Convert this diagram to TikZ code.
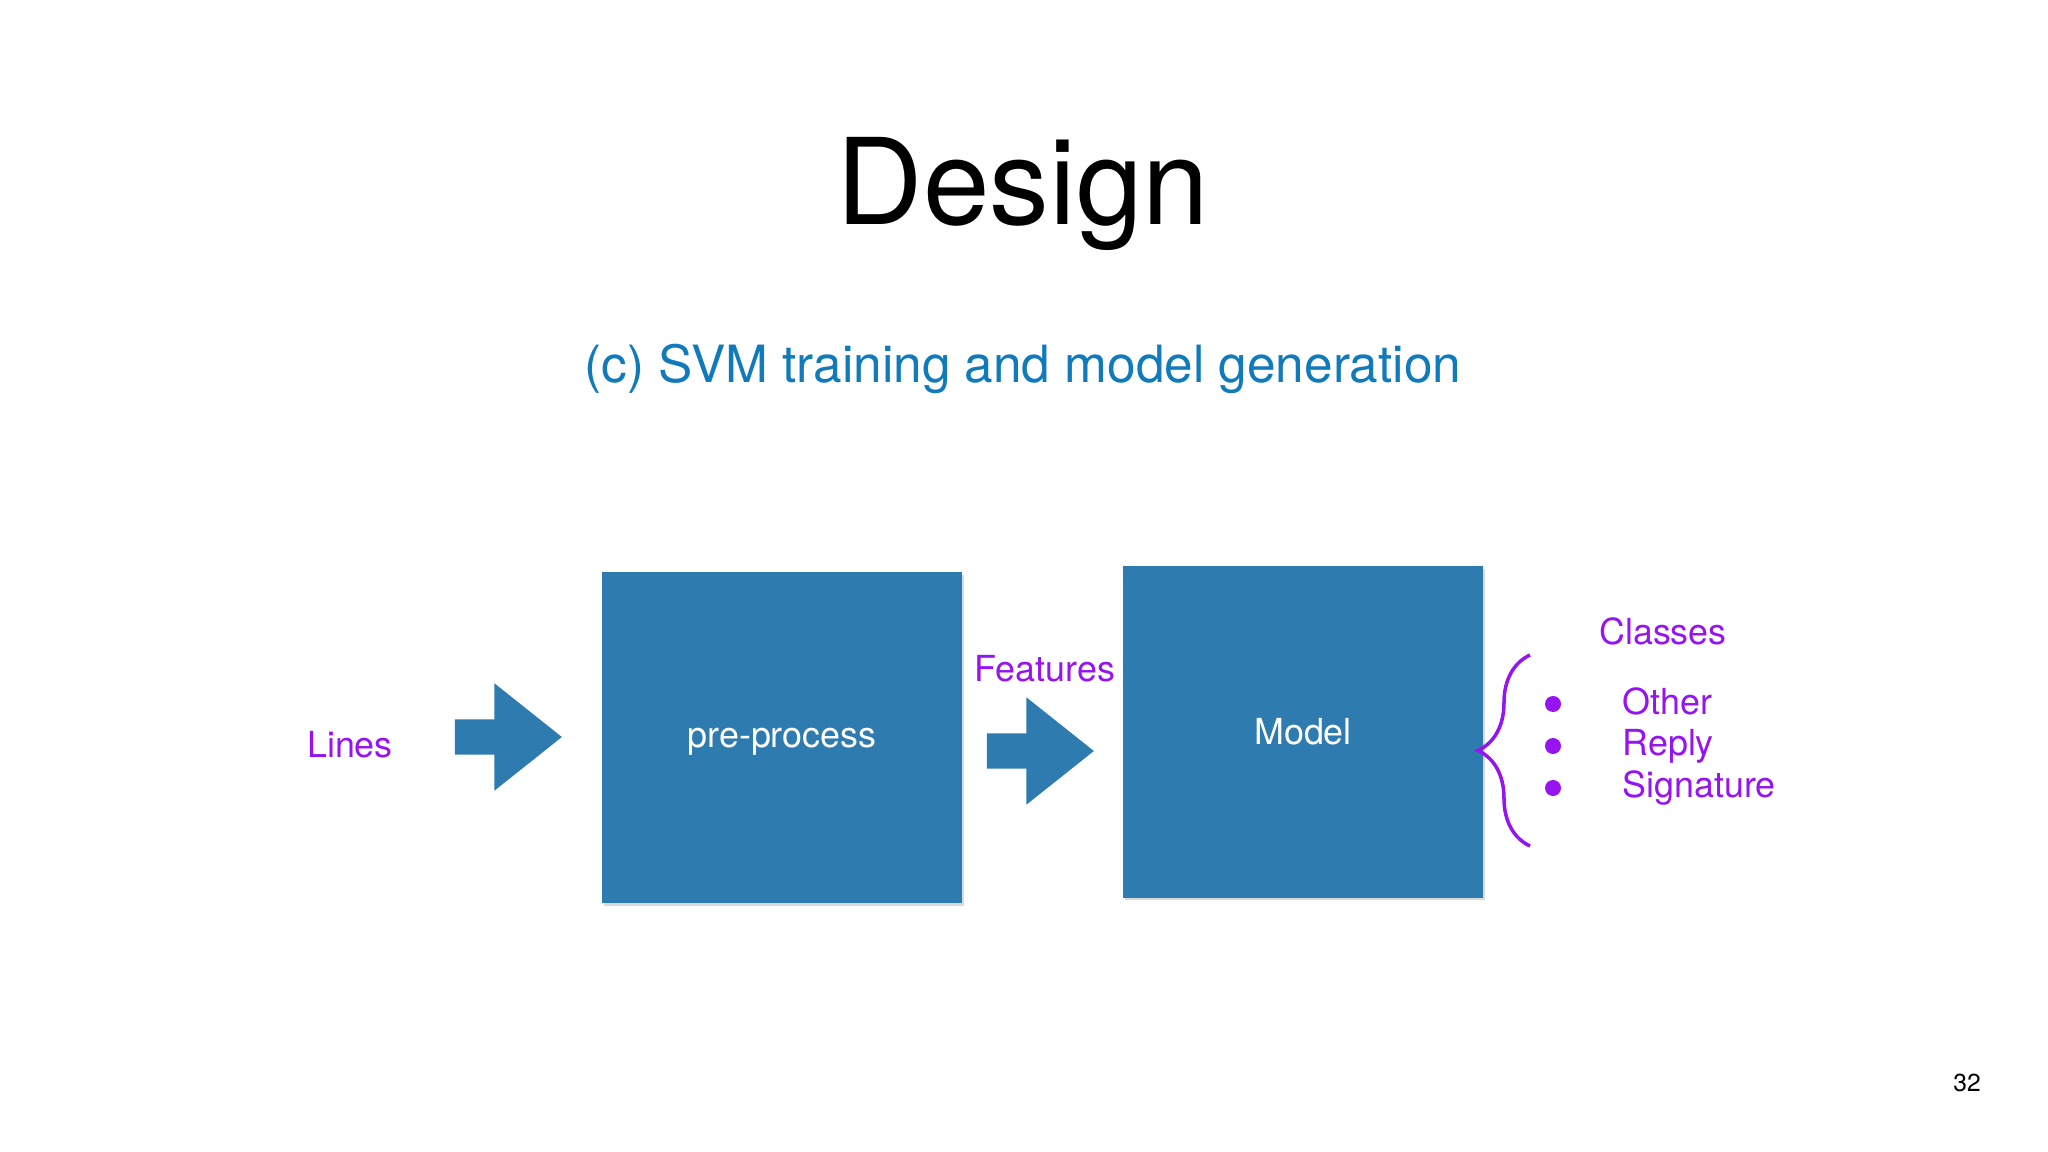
\documentclass[tikz,border=0pt]{standalone}
\usepackage{fontspec}
\setmainfont{TeX Gyre Heros}
\usetikzlibrary{shapes.arrows,shadows,decorations.pathreplacing}

\definecolor{bleuBoite}{RGB}{46,123,175}
\definecolor{bleuTitre}{RGB}{16,122,186}
\definecolor{violetTexte}{RGB}{150,20,240}

\begin{document}
\begin{tikzpicture}[x=0.01cm, y=-0.01cm,
		boite/.style={rectangle,fill=bleuBoite,minimum width=3.6cm,minimum height=3.31cm,inner sep=0pt,text=white,font=\fontsize{10.2}{12}\selectfont,drop shadow={shadow xshift=0.5pt,shadow yshift=-0.8pt,opacity=0.3}},
		fleche/.style={single arrow,fill=bleuBoite,anchor=tip,inner xsep=0pt,inner ysep=0.17cm,single arrow head extend=0.36cm,single arrow tip angle=77,minimum height=1.07cm},
		etiquette/.style={text=violetTexte,font=\fontsize{10.2}{12}\selectfont},
		puce/.style={circle,fill=violetTexte,inner sep=0pt,minimum size=0.16cm},
		accolade/.style={draw=violetTexte,line width=1pt,decorate,decoration={brace,amplitude=0.52cm}}]
		%cadre de la page (pixels, y vers le bas)
		\useasboundingbox (0,0) rectangle (2048,1152);

		%titres
		\node (titre) at(1023, 225) [anchor=base,font=\fontsize{34}{40}\selectfont] {Design} ;
		\node (sous titre) at(1023, 383) [anchor=base,text=bleuTitre,font=\fontsize{14.6}{17}\selectfont] {(c) SVM training and model generation} ;

		%boites
		\node (node pre) at(782, 737.5) [boite,text depth=0pt] {pre-process} ;
		\node (node model) at(1303, 732) [boite] {Model} ;

		%fleches pleines: la pointe est l'ancre
		\node (arrow 1) at(563, 737) [fleche] {} ;
		\node (arrow 2) at(1095, 751) [fleche] {} ;

		%etiquettes
		\node (node lines) at(350, 757) [etiquette,anchor=base] {Lines} ;
		\node (node features) at(1045, 681) [etiquette,anchor=base] {Features} ;
		\node (node classes) at(1663, 645) [etiquette,anchor=base] {Classes} ;

		%accolade des classes
		\coordinate (bas accolade) at(1530, 846) ;
		\coordinate (haut accolade) at(1530, 655) ;
		\draw[accolade] (bas accolade) -- (haut accolade) ;

		%liste des classes
		\node (puce 1) at(1553, 704) [puce] {} ;
		\node (puce 2) at(1553, 746) [puce] {} ;
		\node (puce 3) at(1553, 788) [puce] {} ;
		\node (classe 1) at(1622, 714) [etiquette,anchor=base west,inner xsep=0pt] {Other} ;
		\node (classe 2) at(1622, 755) [etiquette,anchor=base west,inner xsep=0pt] {Reply} ;
		\node (classe 3) at(1622, 797) [etiquette,anchor=base west,inner xsep=0pt] {Signature} ;

		%numero de page
		\node (numero) at(1967, 1091) [anchor=base,font=\fontsize{7}{8}\selectfont] {32} ;
	\end{tikzpicture}
\end{document}
